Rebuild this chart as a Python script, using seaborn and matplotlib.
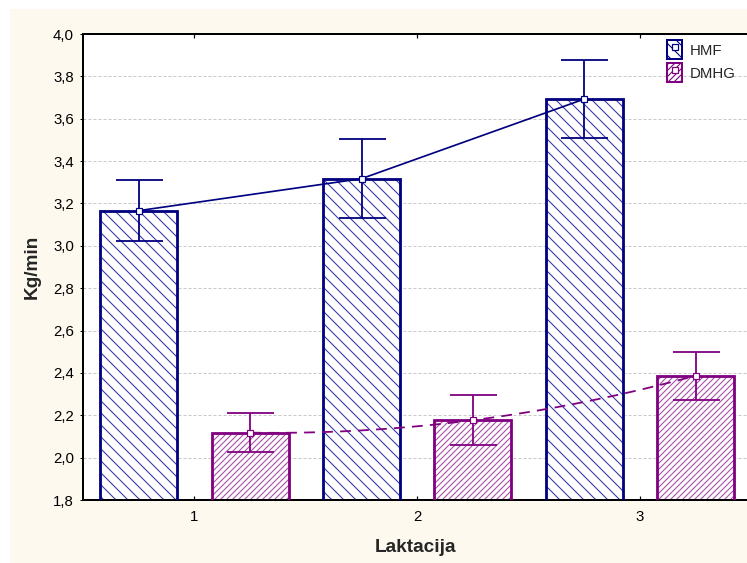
import numpy as np
import pandas as pd
import matplotlib
matplotlib.use("Agg")
import matplotlib.pyplot as plt
from matplotlib.patches import Rectangle, Patch
from matplotlib.lines import Line2D
from matplotlib.legend_handler import HandlerTuple
from matplotlib.ticker import FuncFormatter, MultipleLocator
import seaborn as sns

# ---- data ----
laktacija = ["1", "2", "3"]
groups = ["HMF", "DMHG"]
hmf_mean = [3.166, 3.317, 3.693]
hmf_err = [0.143, 0.188, 0.184]
dmhg_mean = [2.118, 2.177, 2.387]
dmhg_err = [0.091, 0.119, 0.114]

x_label = "Laktacija"
y_label = "Kg/min"

# ---- style ----
sns.set_style("white")
plt.rcParams["font.family"] = ["Liberation Sans", "DejaVu Sans"]
plt.rcParams["hatch.linewidth"] = 1.1

HMF_C = "#000080"
DMHG_C = "#800080"
HMF_H = "#3a3aa8"
DMHG_H = "#a850a8"

df = pd.DataFrame({
    "Laktacija": laktacija * 2,
    "val": hmf_mean + dmhg_mean,
    "grupa": [groups[0]] * 3 + [groups[1]] * 3,
})

DPI = 72
fig = plt.figure(figsize=(747 / DPI, 563 / DPI), dpi=DPI)
fig.patch.set_facecolor("white")
fig.patches.append(Rectangle((10 / 747, 0), 1 - 10 / 747, 1 - 9 / 563,
                             transform=fig.transFigure, facecolor="#fdf9ef",
                             edgecolor="none", zorder=-10))
ax = fig.add_axes([83 / 747, 1 - 500 / 563, 1 - 83 / 747, (500 - 34) / 563])
ax.set_facecolor("white")

sns.barplot(data=df, x="Laktacija", y="val", hue="grupa", hue_order=groups,
            order=laktacija, palette=["white", "white"], width=1.0, gap=0.31,
            errorbar=None, legend=False, ax=ax, zorder=2)

conts = ax.containers
specs = [(conts[0], HMF_C, HMF_H, "\\\\", hmf_mean, hmf_err, "-"),
         (conts[1], DMHG_C, DMHG_H, "////", dmhg_mean, dmhg_err, "--")]

for cont, col, hcol, hatch, means, errs, ls in specs:
    xs = []
    for p in cont.patches:
        p.set_facecolor("white")
        p.set_edgecolor(hcol)
        p.set_hatch(hatch)
        p.set_linewidth(0)
        ax.add_patch(Rectangle(p.get_xy(), p.get_width(), p.get_height(),
                               fill=False, edgecolor=col, linewidth=2.8, zorder=3))
        xs.append(p.get_x() + p.get_width() / 2)
    xs = np.array(xs)
    ax.errorbar(xs, means, yerr=errs, fmt="none", ecolor=col, elinewidth=1.8,
                capsize=23.5, capthick=1.8, zorder=4)
    if ls == "-":
        ax.plot(xs, means, color=col, lw=1.7, zorder=5)
    else:
        sns.regplot(x=xs, y=np.array(means), order=2, ci=None, scatter=False,
                    truncate=True, ax=ax,
                    line_kws=dict(color=col, lw=1.8, ls=(0, (6, 4)), zorder=5))
    ax.plot(xs, means, ls="none", marker="s", ms=6, mfc="white", mec=col,
            mew=1.2, zorder=6)

ax.set_xlim(-0.5, 2.48)
ax.set_ylim(1.8, 4.0)
ax.yaxis.set_major_locator(MultipleLocator(0.2))
ax.yaxis.set_major_formatter(FuncFormatter(lambda v, p: f"{v:.1f}".replace(".", ",")))
ax.grid(axis="y", color="#c8c8c8", lw=1, ls=(0, (3, 2)))
ax.grid(axis="x", visible=False)
ax.set_axisbelow(True)

for s in ["left", "bottom", "top"]:
    ax.spines[s].set_visible(True)
    ax.spines[s].set_color("black")
    ax.spines[s].set_linewidth(2)
ax.spines["right"].set_visible(False)

ax.tick_params(axis="y", direction="out", length=3, width=1, pad=6,
               labelsize=15, colors="black", left=True)
ax.tick_params(axis="x", direction="in", length=4, width=1.2, pad=10,
               labelsize=15, colors="black", bottom=True, top=True)

ax.set_xlabel(x_label, fontsize=19, fontweight="bold", labelpad=15)
ax.set_ylabel(y_label, fontsize=19, fontweight="bold", labelpad=12)

handles = [
    (Patch(facecolor="white", edgecolor=HMF_C, hatch="\\\\", lw=2),
     Line2D([], [], ls="none", marker="s", ms=6, mfc="white", mec=HMF_C, mew=1.2)),
    (Patch(facecolor="white", edgecolor=DMHG_C, hatch="////", lw=2),
     Line2D([], [], ls="none", marker="s", ms=6, mfc="white", mec=DMHG_C, mew=1.2)),
]
leg = ax.legend(handles, groups, handler_map={tuple: HandlerTuple(ndivide=1)},
                loc="upper left", bbox_to_anchor=(667 / 747, 1 - 40 / 563),
                bbox_transform=fig.transFigure, frameon=False, fontsize=15,
                handlelength=1.0, handleheight=1.6, handletextpad=0.5,
                labelspacing=0.25, borderpad=0, borderaxespad=0)

fig.savefig("out.png", dpi=DPI, facecolor=fig.get_facecolor())
